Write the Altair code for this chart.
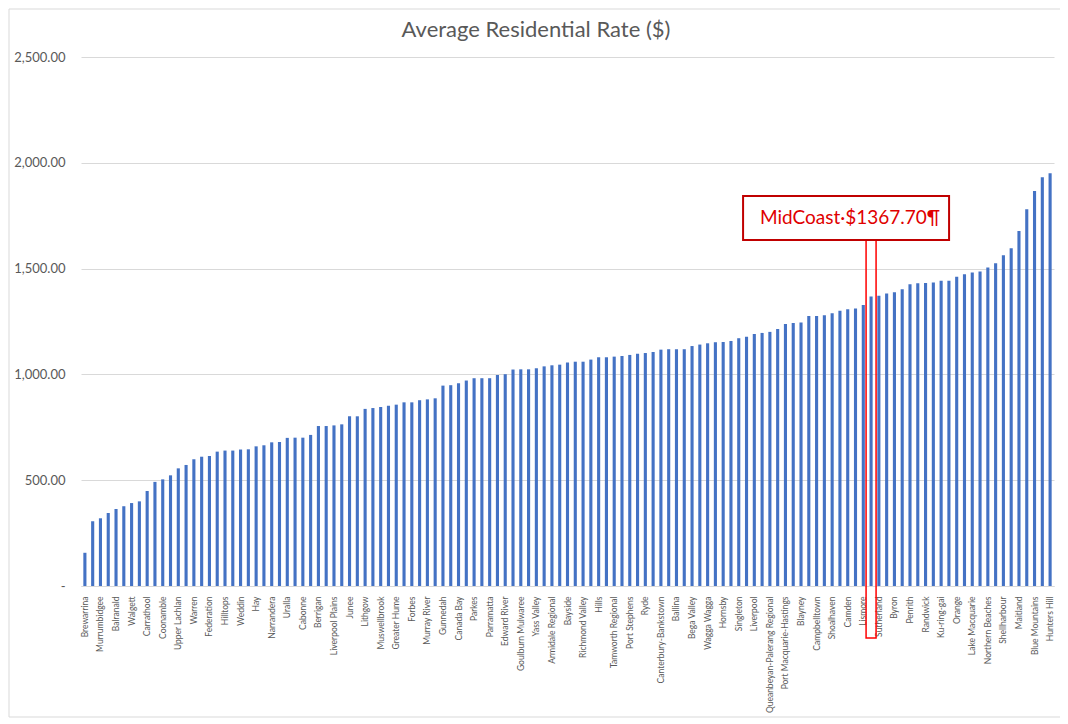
import altair as alt
import pandas as pd

FONT = "Lato"
TEXT_GREY = "#595959"
GRID = "#d9d9d9"

chart_title = "Average Residential Rate ($)"

# Councils whose names are printed on the axis (every other bar)
shown = [
    "Brewarrina", "Murrumbidgee", "Balranald", "Walgett", "Carrathool", "Coonamble",
    "Upper Lachlan", "Warren", "Federation", "Hilltops", "Weddin", "Hay", "Narrandera",
    "Uralla", "Cabonne", "Berrigan", "Liverpool Plains", "Junee", "Lithgow", "Muswellbrook",
    "Greater Hume", "Forbes", "Murray River", "Gunnedah", "Canada Bay", "Parkes",
    "Parramatta", "Edward River", "Goulburn Mulwaree", "Yass Valley", "Armidale Regional",
    "Bayside", "Richmond Valley", "Hills", "Tamworth Regional", "Port Stephens", "Ryde",
    "Canterbury-Bankstown", "Ballina", "Bega Valley", "Wagga Wagga", "Hornsby", "Singleton",
    "Liverpool", "Queanbeyan-Palerang Regional", "Port Macquarie-Hastings", "Blayney",
    "Campbelltown", "Shoalhaven", "Camden", "Lismore", "Sutherland", "Byron", "Penrith",
    "Randwick", "Ku-ring-gai", "Orange", "Lake Macquarie", "Northern Beaches",
    "Shellharbour", "Maitland", "Blue Mountains", "Hunters Hill",
]

# Councils between them whose names are not printed
hidden = [
    "Central Darling", "Bourke", "Bogan", "Cobar", "Gilgandra", "Lachlan", "Bland",
    "Coolamon", "Lockhart", "Temora", "Gwydir", "Tenterfield", "Walcha", "Narromine",
    "Warrumbungle", "Leeton", "Moree Plains", "Narrabri", "Oberon", "Cowra", "Inverell",
    "Glen Innes Severn", "Wentworth", "Cootamundra-Gundagai", "Snowy Valleys", "Kyogle",
    "Griffith", "Broken Hill", "Upper Hunter", "Mid-Western Regional", "Dubbo Regional",
    "Bathurst Regional", "Albury", "Nambucca Valley", "Kempsey", "Bellingen", "Dungog",
    "Clarence Valley", "Fairfield", "Blacktown", "Cumberland", "Snowy Monaro Regional",
    "Eurobodalla", "Tweed", "Coffs Harbour", "Cessnock", "Georges River", "Wollongong",
    "Hawkesbury", "Burwood", "MidCoast", "Newcastle", "Central Coast", "Wingecarribee",
    "Kiama", "Strathfield", "Inner West", "Wollondilly", "Willoughby", "Lane Cove",
    "North Sydney", "Waverley",
]

rates = [
    157, 306, 320, 345, 364, 377, 392, 400, 449, 492,
    504, 523, 556, 572, 599, 611, 614, 635, 640, 640,
    645, 646, 660, 665, 679, 681, 700, 701, 701, 714,
    756, 756, 759, 764, 802, 802, 837, 841, 846, 852,
    857, 868, 868, 878, 882, 887, 947, 949, 958, 971,
    982, 982, 982, 997, 1001, 1023, 1024, 1024, 1029, 1038,
    1043, 1046, 1056, 1060, 1060, 1070, 1081, 1081, 1084, 1087,
    1092, 1097, 1101, 1106, 1117, 1119, 1119, 1119, 1134, 1141,
    1147, 1152, 1153, 1158, 1171, 1178, 1191, 1196, 1201, 1215,
    1238, 1243, 1245, 1276, 1276, 1280, 1289, 1301, 1308, 1311,
    1328, 1367.70, 1372, 1382, 1388, 1402, 1426, 1431, 1432, 1434,
    1442, 1443, 1462, 1473, 1481, 1486, 1505, 1525, 1563, 1596,
    1678, 1781, 1867, 1932, 1951,
]

y_ticks = [0, 500, 1000, 1500, 2000, 2500]
highlight = "MidCoast"

names = []
for i, n in enumerate(shown):
    names.append(n)
    if i < len(hidden):
        names.append(hidden[i])

df = pd.DataFrame({"council": names, "rate": rates})
hi_val = rates[names.index(highlight)]
ann = pd.DataFrame({
    "council": [highlight],
    "rate": [hi_val],
    "label": [f"{highlight}\u00b7${hi_val:.2f}\u00b6"],
})
title_df = pd.DataFrame({"t": [chart_title]})

W, H = 973, 529

x_scale = alt.Scale(domain=names, paddingInner=0.6, paddingOuter=0.3)
x_enc = alt.X(
    "council:N", sort=None, scale=x_scale,
    axis=alt.Axis(
        values=shown, title=None, labelAngle=270, labelFontSize=8.5,
        labelColor=TEXT_GREY, ticks=False, labelPadding=10, domainColor=GRID,
        grid=False, labelFont=FONT, labelOverlap=False, labelLimit=300,
    ),
)
y_enc = alt.Y(
    "rate:Q",
    scale=alt.Scale(domain=[0, 2500], nice=False),
    axis=alt.Axis(
        values=y_ticks, title=None, domain=False, ticks=False, gridColor=GRID,
        labelPadding=16, labelFontSize=13, labelColor=TEXT_GREY, labelFont=FONT,
        labelExpr="datum.value == 0 ? '-\u00a0\u00a0\u00a0' : format(datum.value, ',.2f')",
    ),
)

bars = alt.Chart(df).mark_bar(color="#4472C4").encode(x=x_enc, y=y_enc)

border = alt.Chart(title_df).mark_rect(filled=False, stroke=GRID, strokeWidth=1).encode(
    x=alt.value(-72), x2=alt.value(980), y=alt.value(-48), y2=alt.value(660)
)

title = alt.Chart(title_df).mark_text(
    font=FONT, fontSize=22, color=TEXT_GREY, baseline="middle", align="center"
).encode(text="t:N", x=alt.value(455), y=alt.value(-27))

hi_rect = alt.Chart(ann).mark_bar(
    filled=False, stroke="#FF0000", strokeWidth=1.5, width=10
).encode(x=alt.X("council:N", sort=None, scale=x_scale), y=alt.value(183), y2=alt.value(581))

hi_box = alt.Chart(ann).mark_bar(
    fill="white", stroke="#C00000", strokeWidth=2, width=206, xOffset=-25
).encode(x=alt.X("council:N", sort=None, scale=x_scale), y=alt.value(139), y2=alt.value(183))

hi_text = alt.Chart(ann).mark_text(
    font=FONT, fontSize=19, color="#E00000", dx=-21, baseline="middle", align="center"
).encode(x=alt.X("council:N", sort=None, scale=x_scale), y=alt.value(161), text="label:N")

chart = alt.layer(border, title, bars, hi_rect, hi_box, hi_text).properties(
    width=W, height=H,
    autosize=alt.AutoSizeParams(type="none"),
    padding={"left": 73, "top": 49, "right": 6, "bottom": 132},
    background="white",
).configure_view(stroke=None)

chart.save("out.html", embed_options={"renderer": "svg", "actions": False})
